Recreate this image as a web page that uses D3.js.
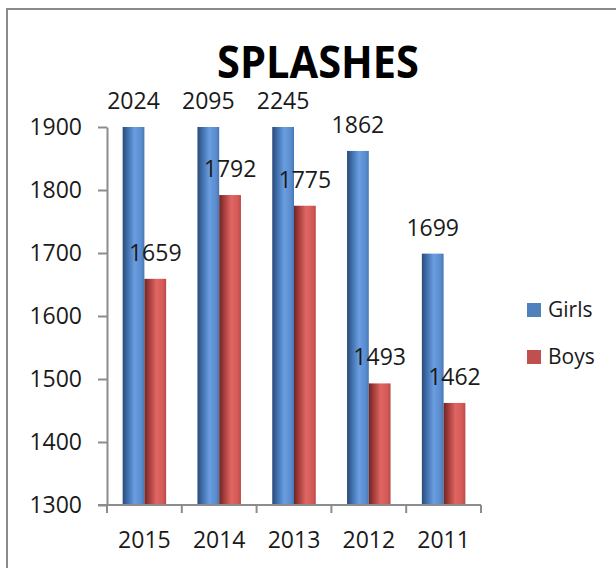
<!DOCTYPE html>
<html>
<head>
<meta charset="utf-8">
<script src="https://cdn.jsdelivr.net/npm/d3@7"></script>
<style>
  html, body { margin: 0; padding: 0; background: #fff; }
  svg { display: block; font-family: 'Open Sans', sans-serif; }
</style>
</head>
<body>
<svg id="chart" width="616" height="568"></svg>
<script>
const years = ['2015', '2014', '2013', '2012', '2011'];
const girls = [2024, 2095, 2245, 1862, 1699];
const boys = [1659, 1792, 1775, 1493, 1462];
const seriesNames = ['Girls', 'Boys'];
const yTicks = [1300, 1400, 1500, 1600, 1700, 1800, 1900];

const svg = d3.select('#chart');
const axisColor = '#8c8c8c';
const textColor = '#1a1a1a';

// outer frame
svg.append('path')
  .attr('d', 'M7,575 L7,9 L620,9')
  .attr('fill', 'none')
  .attr('stroke', '#8a8a8a')
  .attr('stroke-width', 2);

const plot = { left: 107, right: 481, top: 127, bottom: 505 };

const x = d3.scaleBand().domain(years).range([plot.left, plot.right]).padding(0);
const x1 = d3.scaleBand().domain(seriesNames).range([0, x.bandwidth()])
  .paddingInner(0).paddingOuter(0.72);
const y = d3.scaleLinear().domain([1300, 1900]).range([plot.bottom, plot.top]).clamp(true);

const defs = svg.append('defs');
function addGradient(id, stops) {
  const g = defs.append('linearGradient').attr('id', id)
    .attr('x1', 0).attr('y1', 0).attr('x2', 1).attr('y2', 0);
  stops.forEach(([o, c]) => g.append('stop').attr('offset', o).attr('stop-color', c));
}
addGradient('gradGirls', [[0, '#2b4b78'], [0.25, '#4272b0'], [0.55, '#6a9ee0'], [0.85, '#5a8cd0'], [1, '#4778b4']]);
addGradient('gradBoys', [[0, '#6e2624'], [0.25, '#a9403e'], [0.55, '#e06663'], [0.85, '#d45a57'], [1, '#b84a47']]);

const series = [
  { name: 'Girls', values: girls, fill: 'url(#gradGirls)', swatch: '#4f81bd' },
  { name: 'Boys', values: boys, fill: 'url(#gradBoys)', swatch: '#c0504d' },
];

// title
svg.append('text')
  .attr('x', 318).attr('y', 78)
  .attr('text-anchor', 'middle')
  .attr('font-size', 44).attr('font-weight', 700)
  .attr('textLength', 202).attr('lengthAdjust', 'spacingAndGlyphs')
  .attr('fill', '#000')
  .text('SPLASHES');

// bars
series.forEach((s) => {
  svg.append('g').selectAll('rect')
    .data(years.map((yr, i) => ({ yr, v: s.values[i] })))
    .enter().append('rect')
    .attr('x', (d) => x(d.yr) + x1(s.name))
    .attr('y', (d) => y(d.v))
    .attr('width', x1.bandwidth())
    .attr('height', (d) => plot.bottom - y(d.v))
    .attr('fill', s.fill);
});

// value labels
series.forEach((s) => {
  svg.append('g').selectAll('text')
    .data(years.map((yr, i) => ({ yr, v: s.values[i] })))
    .enter().append('text')
    .attr('x', (d) => x(d.yr) + x1(s.name) + x1.bandwidth() / 2)
    .attr('y', (d) => y(d.v) - 18)
    .attr('text-anchor', 'middle')
    .attr('font-size', 23)
    .attr('fill', textColor)
    .text((d) => d.v);
});

// y axis
const yAxis = svg.append('g')
  .attr('transform', `translate(${plot.left},0)`)
  .call(d3.axisLeft(y).tickValues(yTicks).tickFormat(d3.format('d'))
    .tickSize(9).tickSizeOuter(0).tickPadding(16));
yAxis.select('.domain').attr('stroke', axisColor).attr('stroke-width', 2);
yAxis.selectAll('.tick line').attr('stroke', axisColor).attr('stroke-width', 2);
yAxis.selectAll('.tick text')
  .attr('font-size', 23).attr('font-family', 'Open Sans, sans-serif')
  .attr('fill', textColor);

// x axis
const xAxisG = svg.append('g');
xAxisG.append('line')
  .attr('x1', plot.left - 9).attr('x2', plot.right)
  .attr('y1', plot.bottom).attr('y2', plot.bottom)
  .attr('stroke', axisColor).attr('stroke-width', 2);
const boundaries = years.map((yr) => x(yr)).concat([x(years[years.length - 1]) + x.bandwidth()]);
xAxisG.selectAll('line.tick')
  .data(boundaries)
  .enter().append('line')
  .attr('class', 'tick')
  .attr('x1', (d) => d).attr('x2', (d) => d)
  .attr('y1', plot.bottom).attr('y2', plot.bottom + 8)
  .attr('stroke', axisColor).attr('stroke-width', 2);
xAxisG.selectAll('text')
  .data(years)
  .enter().append('text')
  .attr('x', (d) => x(d) + x.bandwidth() / 2)
  .attr('y', 548)
  .attr('text-anchor', 'middle')
  .attr('font-size', 23)
  .attr('fill', textColor)
  .text((d) => d);

// legend
const legend = svg.append('g');
series.forEach((s, i) => {
  const ly = 303 + i * 47;
  legend.append('rect')
    .attr('x', 527).attr('y', ly)
    .attr('width', 14).attr('height', 14)
    .attr('fill', s.swatch);
  legend.append('text')
    .attr('x', 548).attr('y', ly + 14)
    .attr('font-size', 21)
    .attr('fill', textColor)
    .text(s.name);
});
</script>
</body>
</html>
